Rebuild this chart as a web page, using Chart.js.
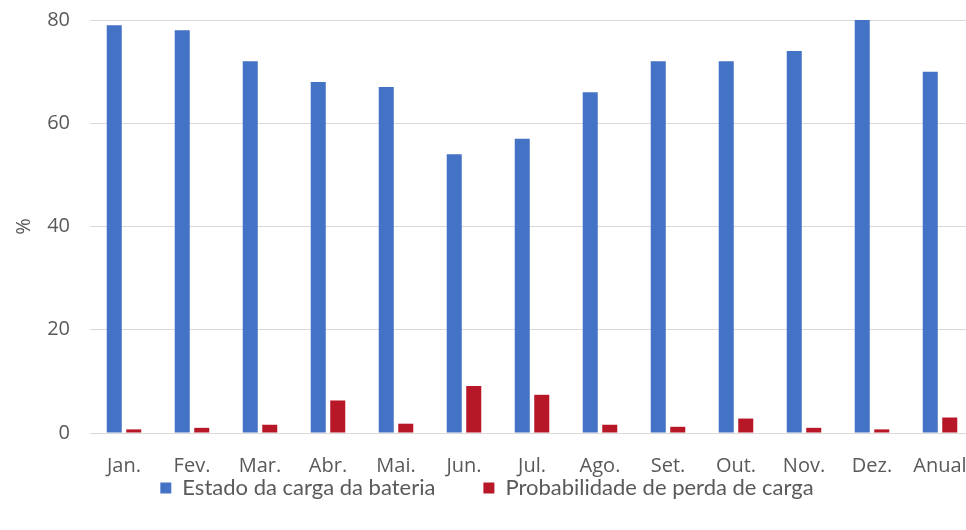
<!DOCTYPE html>
<html>
<head>
<meta charset="utf-8">
<script src="https://cdn.jsdelivr.net/npm/chart.js@4/dist/chart.umd.min.js"></script>
<style>
  html, body { margin: 0; padding: 0; background: #ffffff; overflow: hidden; }
  body { width: 966px; height: 530px; }
  #wrap { position: absolute; left: 0; top: 0; width: 980px; height: 530px; }
</style>
</head>
<body>
<div id="wrap"><canvas id="chart"></canvas></div>
<script>
// Monthly battery figures (%)
const months = ['Jan.', 'Fev.', 'Mar.', 'Abr.', 'Mai.', 'Jun.', 'Jul.', 'Ago.', 'Set.', 'Out.', 'Nov.', 'Dez.', 'Anual'];
const stateOfCharge = [79, 78, 72, 68, 67, 54, 57, 66, 72, 72, 74, 80, 70];
const lossOfLoadProbability = [0.7, 1.0, 1.6, 6.3, 1.8, 9.1, 7.4, 1.6, 1.2, 2.8, 1.0, 0.7, 3.0];
const yTicks = [0, 20, 40, 60, 80];

const axisFont = { family: "'Open Sans', 'Noto Sans', sans-serif", size: 20 };
const legendFont = { family: "Lato, 'Noto Sans', sans-serif", size: 22 };
const textColor = '#595959';

// The legend's label padding sets the wide gap between its two entries;
// lift the legend so its entries sit just below the month labels.
const legendLift = {
  id: 'legendLift',
  afterLayout(chart) {
    const lg = chart.legend;
    if (!lg) return;
    const lift = lg.options.labels.padding + 4;
    lg.top -= lift;
    lg.bottom -= lift;
  }
};

new Chart(document.getElementById('chart'), {
  type: 'bar',
  data: {
    labels: months,
    datasets: [
      {
        label: 'Estado da carga da bateria',
        data: stateOfCharge,
        backgroundColor: '#4472C4',
        borderWidth: 0
      },
      {
        label: 'Probabilidade de perda de carga',
        data: lossOfLoadProbability,
        backgroundColor: '#B71727',
        borderWidth: 0
      }
    ]
  },
  plugins: [legendLift],
  options: {
    responsive: true,
    maintainAspectRatio: false,
    animation: false,
    layout: { padding: { left: 0, right: 6, top: 0, bottom: -31 } },
    datasets: {
      bar: { categoryPercentage: 0.574, barPercentage: 0.77 }
    },
    scales: {
      x: {
        afterFit: (scale) => { scale.height = 48; },
        grid: { display: false },
        border: { display: false },
        ticks: { color: textColor, font: axisFont, padding: 13, maxRotation: 0, autoSkip: false }
      },
      y: {
        min: 0,
        max: 80,
        afterBuildTicks: (scale) => { scale.ticks = yTicks.map(v => ({ value: v })); },
        afterFit: (scale) => { scale.width = 90; },
        grid: { color: '#D9D9D9', lineWidth: 1, drawTicks: true, tickLength: 12, tickColor: 'rgba(0,0,0,0)' },
        border: { display: false },
        ticks: { color: textColor, font: axisFont, padding: 8 },
        title: {
          display: true,
          text: '%',
          color: textColor,
          font: axisFont,
          padding: { top: 12, bottom: 0 }
        }
      }
    },
    plugins: {
      legend: {
        position: 'bottom',
        labels: {
          color: textColor,
          font: legendFont,
          boxWidth: 11,
          boxHeight: 11,
          padding: 48
        }
      },
      tooltip: { enabled: false }
    }
  }
});
</script>
</body>
</html>
